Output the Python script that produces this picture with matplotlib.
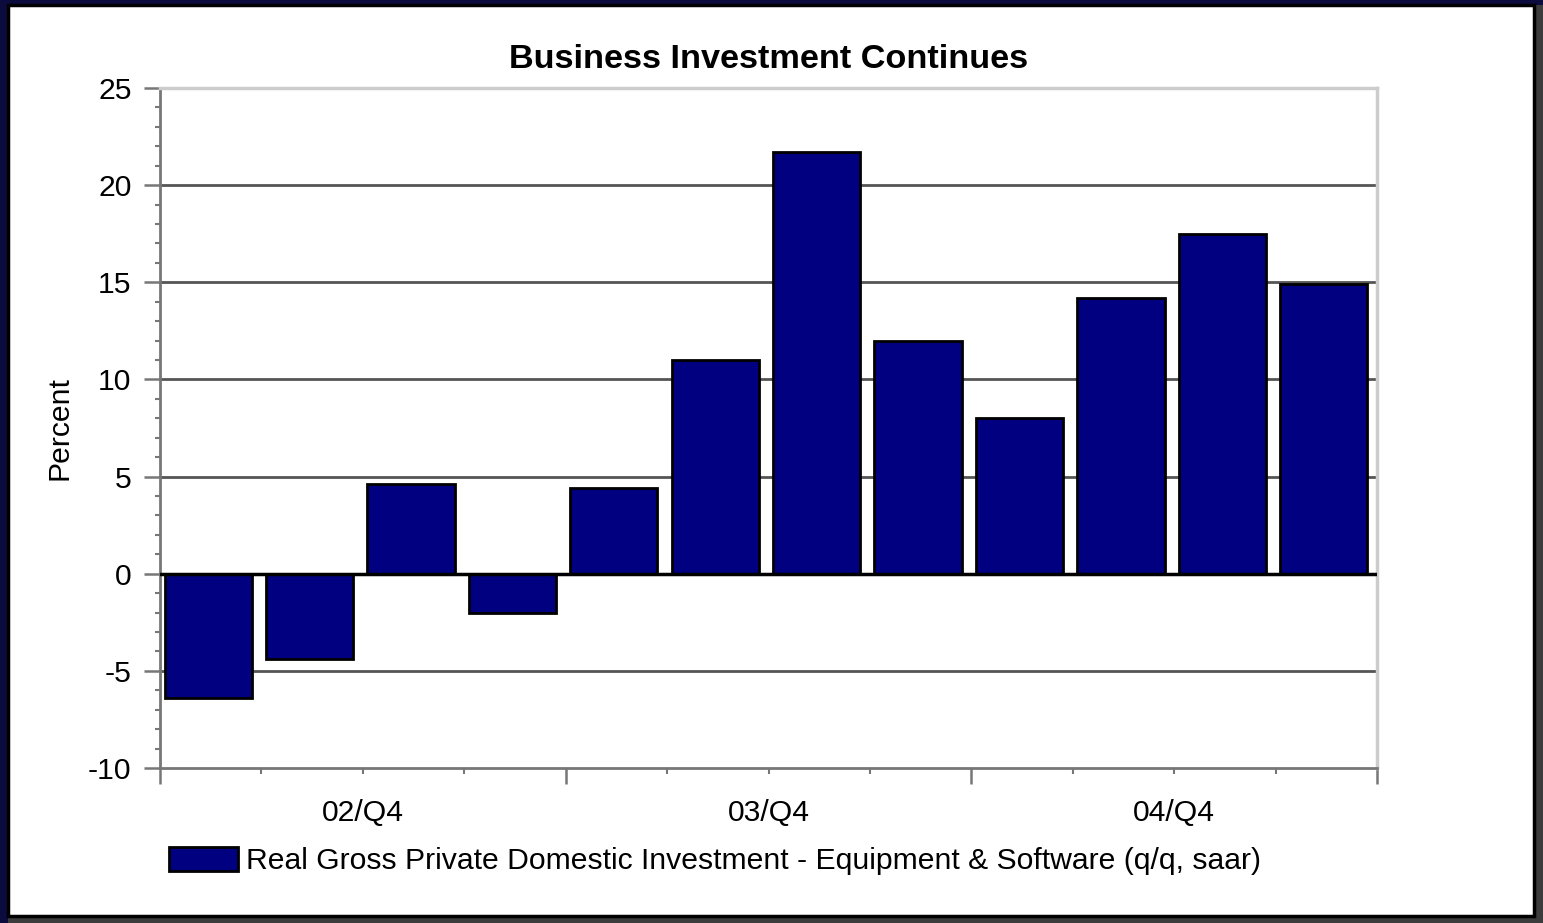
import matplotlib
matplotlib.use('Agg')
import matplotlib.pyplot as plt
from matplotlib.patches import Rectangle
import numpy as np

plt.rcParams['font.family'] = ['Liberation Sans', 'DejaVu Sans']
plt.rcParams['axes.unicode_minus'] = False

# quarterly values, 02/Q2 .. 05/Q1
values = [-6.4, -4.4, 4.6, -2.0, 4.4, 11.0, 21.7, 12.0, 8.0, 14.2, 17.5, 14.9]
quarter_labels = ['02/Q4', '03/Q4', '04/Q4']
label_pos = [1.5, 5.5, 9.5]
series_name = 'Real Gross Private Domestic Investment - Equipment & Software (q/q, saar)'

W, H = 1543, 923
FS = 21.7
fig = plt.figure(figsize=(W / 100, H / 100), dpi=100)
fig.patch.set_facecolor('#3c3c3c')

# dark navy frame on left/top, white panel with black border
fig.patches.append(Rectangle((0, 0), 8 / W, 1, transform=fig.transFigure,
                             facecolor='#0b0b3d', edgecolor='none', zorder=-10))
fig.patches.append(Rectangle((0, 1 - 5 / H), 1, 5 / H, transform=fig.transFigure,
                             facecolor='#0b0b3d', edgecolor='none', zorder=-10))
fig.patches.append(Rectangle((8 / W, 1 - 916 / H), 1526 / W, 911 / H,
                             transform=fig.transFigure, facecolor='white',
                             edgecolor='black', linewidth=2.5, zorder=-9))

ax = fig.add_axes([160 / W, 1 - 768 / H, (1377 - 160) / W, (768 - 88) / H])
ax.set_zorder(1)
ax.set_facecolor('white')

x = np.arange(len(values))
ax.bar(x - 0.025, values, width=0.86, color='#000080', edgecolor='black', linewidth=2, zorder=3)

ax.set_xlim(-0.5, len(values) - 0.5)
ax.set_ylim(-10, 25)

ax.set_yticks(np.arange(-10, 26, 5))
ax.set_yticks(np.arange(-10, 26, 1), minor=True)
ax.tick_params(axis='y', which='major', length=11.5, width=1.8, color='#777777',
               labelsize=FS, pad=9)
ax.tick_params(axis='y', which='minor', length=3.6, width=1.5, color='#777777')

ax.set_xticks([-0.5, 3.5, 7.5, 11.5])
ax.set_xticks([0.5, 1.5, 2.5, 4.5, 5.5, 6.5, 8.5, 9.5, 10.5], minor=True)
ax.set_xticklabels([])
ax.tick_params(axis='x', which='major', length=11.5, width=1.8, color='#777777')
ax.tick_params(axis='x', which='minor', length=4.3, width=1.5, color='#777777')
for p, lab in zip(label_pos, quarter_labels):
    ax.text(p, -0.066, lab, transform=ax.get_xaxis_transform(),
            ha='center', va='center', fontsize=FS)

for yv in [-5, 5, 10, 15, 20]:
    ax.axhline(yv, color='#555555', linewidth=2, zorder=1)
ax.axhline(0, color='black', linewidth=2.5, zorder=4)

for side in ['left', 'bottom']:
    ax.spines[side].set_color('#777777')
    ax.spines[side].set_linewidth(2)
for side in ['top', 'right']:
    ax.spines[side].set_color('#cccccc')
    ax.spines[side].set_linewidth(2.5)

fig.text(60 / W, 1 - 428 / H, 'Percent', rotation=90, ha='center', va='center', fontsize=FS)
fig.text(769 / W, 1 - 60 / H, 'Business Investment Continues', ha='center', va='center',
         fontsize=24.7, fontweight='bold')

fig.legend([Rectangle((0, 0), 1, 1, facecolor='#000080', edgecolor='black', linewidth=2)],
           [series_name], loc='center', bbox_to_anchor=(715 / W, 1 - 861 / H),
           frameon=False, fontsize=FS, handlelength=2.3, handleheight=0.85,
           handletextpad=0.27, borderpad=0)

fig.savefig('out.png', dpi=100, facecolor=fig.get_facecolor())
